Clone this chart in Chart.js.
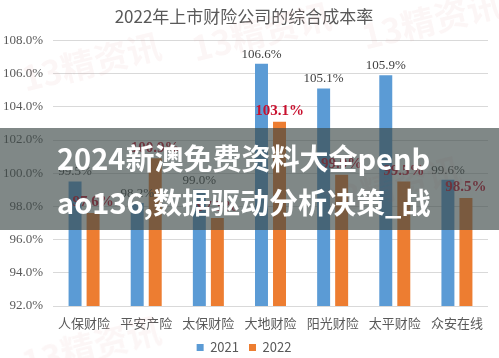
<!DOCTYPE html>
<html>
<head>
<meta charset="utf-8">
<script src="https://cdn.jsdelivr.net/npm/chart.js@4.4.1/dist/chart.umd.min.js"></script>
<style>
  html, body { margin: 0; padding: 0; background: #ffffff; }
  #wrap { position: relative; width: 499px; height: 358px; overflow: hidden; }
  canvas { position: absolute; left: 0; top: 0; }
  .wm { position: absolute; color: rgba(225,150,150,0.09); font: bold 34px "Noto Sans CJK SC", sans-serif; transform: rotate(-14deg); white-space: nowrap; pointer-events: none; }
  #band { position: absolute; left: 0; top: 128px; width: 499px; height: 102px; background: rgba(60,72,70,0.65); }
  #band div { position: absolute; left: 57px; color: #ffffff; font: bold 29px "Noto Sans CJK SC", sans-serif; white-space: nowrap; line-height: 1; }
</style>
</head>
<body>
<div id="wrap">
  <canvas id="c" width="499" height="358"></canvas>
  <div class="wm" style="left:20px;top:36px;">13精资讯</div>
  <div class="wm" style="left:190px;top:6px;">13精资讯</div>
  <div class="wm" style="left:360px;top:-6px;">13精资讯</div>
  <div class="wm" style="left:320px;top:160px;">13精资讯</div>
  <div class="wm" style="left:20px;top:320px;">13精资讯</div>
  <div id="band">
    <div style="top:15px;">2024新澳免费资料大全penb</div>
    <div style="top:59px;">ao136,数据驱动分析决策_战</div>
  </div>
</div>
<script>
const title = '2022年上市财险公司的综合成本率';
const categories = ['人保财险', '平安产险', '太保财险', '大地财险', '阳光财险', '太平财险', '众安在线'];
const series2021 = [99.5, 98.2, 99.0, 106.6, 105.1, 105.9, 99.6];
const series2022 = [97.6, 100.9, 97.3, 103.1, 99.9, 99.5, 98.5];
const seriesNames = ['2021', '2022'];
const yMin = 92, yMax = 108, yStep = 2;

const labelPlugin = {
  id: 'barLabels',
  afterDatasetsDraw(chart) {
    const ctx = chart.ctx;
    chart.data.datasets.forEach((ds, di) => {
      const meta = chart.getDatasetMeta(di);
      meta.data.forEach((bar, i) => {
        ctx.save();
        if (di === 0) {
          ctx.fillStyle = '#404040';
          ctx.font = '13px "Liberation Serif", serif';
        } else {
          ctx.fillStyle = '#c8102e';
          ctx.font = 'bold 15px "Liberation Serif", serif';
        }
        ctx.textAlign = 'center';
        ctx.textBaseline = 'bottom';
        ctx.fillText(ds.data[i].toFixed(1) + '%', bar.x, bar.y - 3);
        ctx.restore();
      });
    });
  }
};

new Chart(document.getElementById('c'), {
  type: 'bar',
  data: {
    labels: categories,
    datasets: [
      { label: seriesNames[0], data: series2021, backgroundColor: '#5b9bd5', categoryPercentage: 0.58, barPercentage: 0.72 },
      { label: seriesNames[1], data: series2022, backgroundColor: '#ed7d31', categoryPercentage: 0.58, barPercentage: 0.72 }
    ]
  },
  options: {
    responsive: false,
    animation: false,
    devicePixelRatio: 1,
    layout: { padding: { left: 0, right: 11, top: 0, bottom: -6 } },
    plugins: {
      title: {
        display: true,
        text: title,
        color: '#595959',
        font: { family: '"Noto Sans CJK SC", sans-serif', size: 17, weight: 'normal' },
        padding: { top: 6, bottom: 14 }
      },
      legend: {
        display: true,
        position: 'bottom',
        labels: {
          boxWidth: 7, boxHeight: 7, padding: 10,
          color: '#595959',
          font: { family: '"Noto Sans CJK SC", sans-serif', size: 13 }
        }
      },
      tooltip: { enabled: false }
    },
    scales: {
      x: {
        grid: { display: false, drawTicks: false },
        border: { display: false },
        ticks: {
          color: '#595959', padding: 9, maxRotation: 0, autoSkip: false,
          font: { family: '"Noto Sans CJK SC", sans-serif', size: 13 }
        },
        afterFit(scale) { scale.height = 25; }
      },
      y: {
        min: yMin, max: yMax,
        ticks: {
          stepSize: yStep, padding: 10, color: '#595959',
          font: { family: '"Liberation Serif", serif', size: 13 },
          callback: v => v.toFixed(1) + '%'
        },
        grid: { color: '#d9d9d9', drawTicks: false },
        border: { display: false },
        afterFit(scale) { scale.width = 53; }
      }
    }
  },
  plugins: [labelPlugin]
});
</script>
</body>
</html>
